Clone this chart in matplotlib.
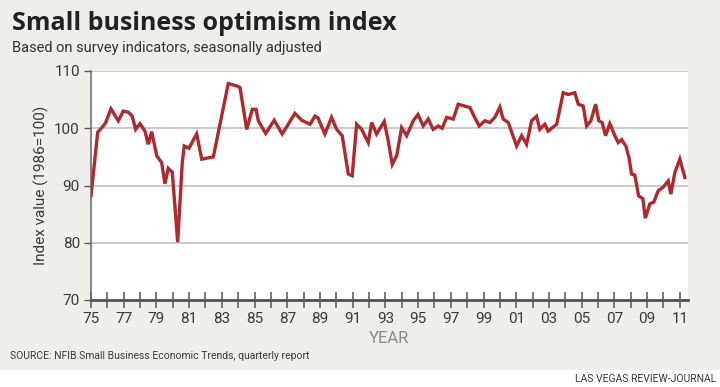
import matplotlib
matplotlib.use("Agg")
import matplotlib.pyplot as plt
import matplotlib.ticker as ticker
from matplotlib.patches import Rectangle

# ── Data (decimal years) ──
years = [
    1975.00, 1975.41, 1975.75, 1975.90, 1976.22, 1976.67, 1976.97, 1977.28,
    1977.52, 1977.73, 1977.99, 1978.30, 1978.50, 1978.71, 1979.02, 1979.32,
    1979.52, 1979.72, 1979.97, 1980.30, 1980.58, 1980.70, 1980.99, 1981.46,
    1981.77, 1982.48, 1983.39, 1983.91, 1984.11, 1984.52, 1984.86, 1985.09,
    1985.23, 1985.68, 1986.20, 1986.69, 1987.06, 1987.47, 1987.88, 1988.39,
    1988.69, 1988.88, 1989.30, 1989.71, 1990.02, 1990.36, 1990.73, 1990.97,
    1991.24, 1991.55, 1991.95, 1992.16, 1992.46, 1992.93, 1993.17, 1993.42,
    1993.69, 1993.99, 1994.30, 1994.70, 1994.99, 1995.31, 1995.62, 1995.92,
    1996.23, 1996.47, 1996.74, 1997.15, 1997.45, 1997.82, 1998.17, 1998.37,
    1998.73, 1999.08, 1999.39, 1999.69, 2000.00, 2000.20, 2000.51, 2001.02,
    2001.33, 2001.63, 2001.94, 2002.24, 2002.44, 2002.75, 2002.95, 2003.47,
    2003.87, 2004.18, 2004.58, 2004.79, 2005.09, 2005.30, 2005.56, 2005.85,
    2006.05, 2006.25, 2006.46, 2006.72, 2007.03, 2007.23, 2007.44, 2007.70,
    2007.89, 2008.05, 2008.25, 2008.48, 2008.74, 2008.89, 2009.17, 2009.41,
    2009.68, 2009.98, 2010.29, 2010.45, 2010.70, 2011.00, 2011.31,
]
index_vals = [
    88.2, 99.3, 100.4, 101.0, 103.4, 101.3, 103.0, 102.8,
    102.1, 99.8, 100.8, 99.5, 97.2, 99.4, 95.2, 94.0,
    90.3, 93.0, 92.3, 80.1, 94.0, 96.9, 96.5, 99.0,
    94.6, 95.0, 107.8, 107.4, 107.1, 99.8, 103.3, 103.3,
    101.3, 99.1, 101.4, 99.0, 100.7, 102.6, 101.4, 100.7,
    102.1, 101.8, 99.0, 101.9, 99.8, 98.7, 92.0, 91.7,
    100.7, 99.8, 97.5, 101.0, 99.0, 101.2, 97.8, 93.7,
    95.2, 100.1, 98.7, 101.3, 102.4, 100.4, 101.6, 99.8,
    100.4, 100.0, 101.9, 101.6, 104.2, 103.9, 103.6, 102.4,
    100.4, 101.3, 101.0, 101.9, 103.7, 101.6, 101.0, 96.9,
    98.7, 97.2, 101.3, 102.1, 99.8, 100.7, 99.5, 100.7,
    106.2, 105.9, 106.2, 104.2, 103.9, 100.4, 101.3, 104.2,
    101.3, 101.0, 98.7, 100.8, 98.7, 97.5, 98.0, 96.9,
    94.9, 92.0, 91.8, 88.2, 87.7, 84.3, 86.8, 87.1,
    89.1, 89.7, 90.8, 88.5, 92.3, 94.6, 91.4,
]
label_years = list(range(1975, 2012, 2))
y_ticks = [70, 80, 90, 100, 110]

# ── Style ──
BG = "#efeeea"
LINE = "#b1282f"
TXT = "#3a3a3a"
plt.rcParams["font.family"] = ["Roboto", "DejaVu Sans"]

fig = plt.figure(figsize=(7.2, 3.87), dpi=100, facecolor=BG)
fig.patches.append(Rectangle((0, 0), 1, 17 / 387, transform=fig.transFigure,
                             facecolor="white", edgecolor="none", zorder=0))

ax = fig.add_axes([91 / 720, 1 - 300 / 387, 597 / 720, (300 - 71) / 387])
ax.set_facecolor("white")

ax.plot(years, index_vals, color=LINE, linewidth=2.4, solid_joinstyle="miter",
        zorder=4)

ax.set_xlim(1975, 2011.5)
ax.set_ylim(70, 110)

ax.set_yticks(y_ticks)
ax.yaxis.grid(True, color="#bdbdbd", linewidth=1.1)
ax.set_axisbelow(True)
ax.tick_params(axis="y", length=5, width=1, color="#555555", labelsize=11,
               labelcolor=TXT, pad=3)

ax.xaxis.set_major_locator(ticker.FixedLocator(label_years))
ax.xaxis.set_minor_locator(ticker.MultipleLocator(1))
ax.xaxis.set_major_formatter(ticker.FuncFormatter(lambda v, p: f"{int(v) % 100:02d}"))
ax.tick_params(axis="x", which="both", direction="inout", length=11, width=1.1,
               color="#555555", labelsize=11, labelcolor=TXT, pad=3)

for s in ["top", "right"]:
    ax.spines[s].set_visible(False)
ax.spines["left"].set_color("#666666")
ax.spines["left"].set_linewidth(1.1)
ax.spines["bottom"].set_color("#555555")
ax.spines["bottom"].set_linewidth(2)

ax.set_ylabel("Index value (1986=100)", fontsize=11, color=TXT, labelpad=4)
ax.set_xlabel("YEAR", fontsize=12, color="#8a8a8a", labelpad=4)

fig.text(12 / 720, 1 - 30 / 387, "Small business optimism index",
         fontsize=18, fontweight="bold", color="#222222",
         family=["Open Sans", "DejaVu Sans"])
fig.text(12 / 720, 1 - 52 / 387, "Based on survey indicators, seasonally adjusted",
         fontsize=10.5, color="#333333")
fig.text(10 / 720, 1 - 359 / 387,
         "SOURCE: NFIB Small Business Economic Trends, quarterly report",
         fontsize=7.5, color=TXT)
fig.text(716 / 720, 1 - 382 / 387, "LAS VEGAS REVIEW-JOURNAL",
         fontsize=7.5, color=TXT, ha="right")

fig.savefig("out.png", dpi=100, facecolor=BG)
